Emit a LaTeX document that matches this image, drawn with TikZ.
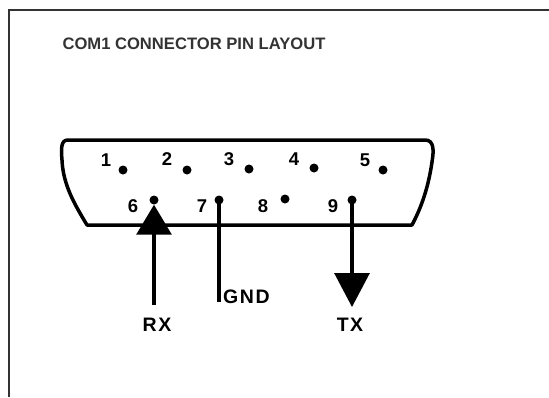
\documentclass[tikz,border=0pt]{standalone}
\usepackage{fontspec}
\setmainfont{Liberation Sans}
\usetikzlibrary{arrows.meta}

\begin{document}
\begin{tikzpicture}[x=1pt,y=-1pt,
    pin/.style={circle,fill=black,inner sep=0pt,minimum size=9pt},
    num/.style={font=\bfseries\fontsize{18.5}{18.5}\selectfont},
    sig/.style={font=\bfseries\fontsize{19.5}{19.5}\selectfont\addfontfeature{LetterSpace=8}},
    wire/.style={line width=3.2pt}]
  \useasboundingbox (0,0) rectangle (549,397);
  % frame
  \draw[line width=1.5pt,black!80] (9,397) -- (9,10) -- (549,10);
  \node[anchor=west,font=\bfseries\fontsize{16.6}{16.6}\selectfont,text=black!80] (title) at (59,44) {COM1 CONNECTOR PIN LAYOUT};
  % shell of the plug
  \draw[line width=3.5pt,line join=round]
    (68,140) -- (425,140) .. controls (434,140) and (434,150) .. (432,162)
    .. controls (428,190) and (420,210) .. (412,225) -- (87,225)
    .. controls (75,205) and (63,185) .. (62,160)
    .. controls (61,148) and (61,140) .. (68,140) -- cycle;
  \draw
    (123,170) node[pin] (p1){}
    (187,170) node[pin] (p2){}
    (249,169) node[pin] (p3){}
    (314,168) node[pin] (p4){}
    (383,170) node[pin] (p5){}
    (154,200) node[pin] (p6){}
    (219,200) node[pin] (p7){}
    (285,199) node[pin] (p8){}
    (352,200) node[pin] (p9){};
  \begin{scope}[num]
    \node (n1) at (106,160) {1};
    \node (n2) at (167,159) {2};
    \node (n3) at (229,159) {3};
    \node (n4) at (294,159) {4};
    \node (n5) at (365,160) {5};
    \node (n6) at (133,206) {6};
    \node (n7) at (202,206) {7};
    \node (n8) at (263,206) {8};
    \node (n9) at (333,206) {9};
  \end{scope}
  \coordinate (rx) at (154,305);
  \coordinate (gnd) at (219,302);
  \coordinate (tx) at (352,307);
  \draw[wire,-{Triangle[width=35pt,length=30pt]}] (rx) -- (p6.south);
  \draw[wire] (p7.center) -- (gnd);
  \draw[wire,-{Triangle[width=35pt,length=34pt]}] (p9.center) -- (tx);
  \node[sig] (rxl) at (157,325) {RX};
  \node[sig,anchor=west,inner sep=1pt] (gndl) at (222,297) {GND};
  \node[sig] (txl) at (350,325) {TX};
\end{tikzpicture}
\end{document}
